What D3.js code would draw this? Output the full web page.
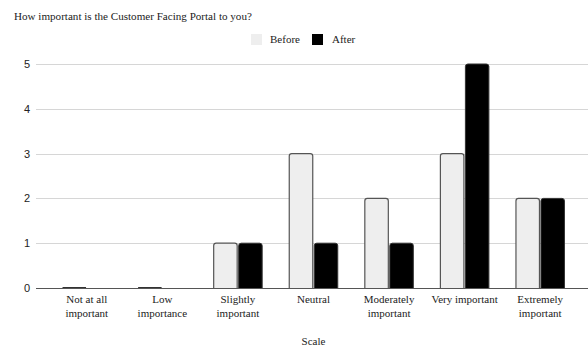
<!DOCTYPE html>
<html>
<head>
<meta charset="utf-8">
<script src="https://cdn.jsdelivr.net/npm/d3@7"></script>
<style>
  body { margin: 0; background: #fff; }
  svg { display: block; }
  text { font-family: "Liberation Serif", "Times New Roman", serif; fill: #222; }
  .tick-y text { font-family: "Liberation Sans", Arial, sans-serif; }
</style>
</head>
<body>
<svg id="chart" width="588" height="349"></svg>
<script>
// Survey responses per importance level
const categories = [
  ["Not at all", "important"],
  ["Low", "importance"],
  ["Slightly", "important"],
  ["Neutral"],
  ["Moderately", "important"],
  ["Very important"],
  ["Extremely", "important"]
];
const beforeValues = [0, 0, 1, 3, 2, 3, 2];
const afterValues  = [0, 0, 1, 1, 1, 5, 2];
const seriesNames  = ["Before", "After"];
const yTicks = [0, 1, 2, 3, 4, 5];

const svg = d3.select("#chart");
const plot = { left: 49, right: 578, top: 64, bottom: 288 };
const gridLeft = 36, gridRight = 588;

const x = d3.scaleBand()
  .domain(d3.range(categories.length))
  .range([plot.left, plot.right])
  .paddingInner(0)
  .paddingOuter(0);

const y = d3.scaleLinear().domain([0, 5]).range([plot.bottom, plot.top]);

// Title
svg.append("text")
  .attr("x", 14).attr("y", 20)
  .attr("font-size", 11.1)
  .text("How important is the Customer Facing Portal to you?");

// Gridlines and y labels
const gy = svg.append("g").attr("class", "tick-y");
gy.selectAll("line").data(yTicks.filter(d => d > 0)).join("line")
  .attr("x1", gridLeft).attr("x2", gridRight)
  .attr("y1", d => Math.round(y(d)) + 0.5).attr("y2", d => Math.round(y(d)) + 0.5)
  .attr("stroke", "#d6d6d6").attr("stroke-width", 1);
gy.selectAll("text").data(yTicks).join("text")
  .attr("x", 30).attr("y", d => y(d) + 4)
  .attr("text-anchor", "end")
  .attr("font-size", 11)
  .attr("fill", "#333")
  .text(d => d);

// Bars
const barW = 23.5, gap = 1.5;
function barPath(x0, w, v) {
  const yb = y(0), yt = y(v);
  const h = yb - yt;
  const r = Math.min(2.5, h / 2, w / 2);
  if (h <= 0) return `M${x0},${yb}H${x0 + w}`;
  return `M${x0},${yb}V${yt + r}Q${x0},${yt} ${x0 + r},${yt}H${x0 + w - r}Q${x0 + w},${yt} ${x0 + w},${yt + r}V${yb}`;
}
const bars = svg.append("g");
categories.forEach((c, i) => {
  const cx = x(i) + x.bandwidth() / 2;
  const xb = cx - gap / 2 - barW;
  const xa = cx + gap / 2;
  const vb = beforeValues[i], va = afterValues[i];
  bars.append("path")
    .attr("d", barPath(xb, barW, vb))
    .attr("fill", vb > 0 ? "#eeeeee" : "none")
    .attr("stroke", vb > 0 ? "#555" : "#333")
    .attr("stroke-width", vb > 0 ? 1.2 : 2);
  if (va > 0) {
    bars.append("path")
      .attr("d", barPath(xa, barW, va))
      .attr("fill", "#000")
      .attr("stroke", "#333")
      .attr("stroke-width", 1);
  }
});

// Baseline
svg.append("line")
  .attr("x1", gridLeft).attr("x2", gridRight)
  .attr("y1", y(0) + 0.5).attr("y2", y(0) + 0.5)
  .attr("stroke", "#555").attr("stroke-width", 1);

// Category labels
const xl = svg.append("g");
categories.forEach((lines, i) => {
  const t = xl.append("text")
    .attr("x", x(i) + x.bandwidth() / 2)
    .attr("y", 303)
    .attr("text-anchor", "middle")
    .attr("font-size", 11);
  lines.forEach((ln, j) => {
    t.append("tspan")
      .attr("x", x(i) + x.bandwidth() / 2)
      .attr("dy", j === 0 ? 0 : 13.5)
      .text(ln);
  });
});

// Axis title
svg.append("text")
  .attr("x", (plot.left + plot.right) / 2).attr("y", 345)
  .attr("text-anchor", "middle").attr("font-size", 11)
  .text("Scale");

// Legend
const legend = [
  { name: seriesNames[0], fill: "#eeeeee", sx: 251, tx: 270 },
  { name: seriesNames[1], fill: "#000", sx: 312, tx: 332 }
];
const lg = svg.append("g");
legend.forEach(l => {
  lg.append("rect").attr("x", l.sx).attr("y", 34).attr("width", 11).attr("height", 11)
    .attr("fill", l.fill);
  lg.append("text").attr("x", l.tx).attr("y", 43).attr("font-size", 11).text(l.name);
});
</script>
</body>
</html>
